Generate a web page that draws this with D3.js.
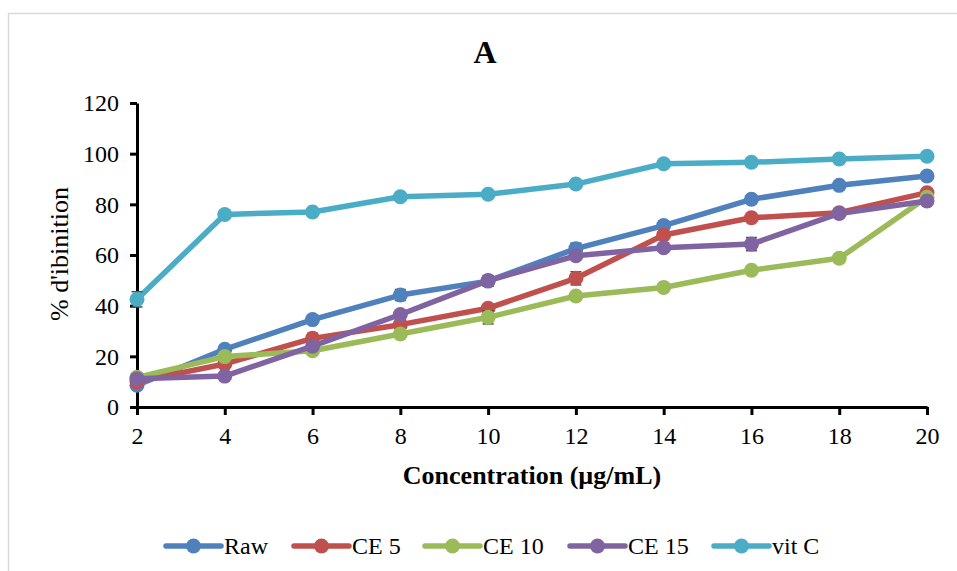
<!DOCTYPE html>
<html>
<head>
<meta charset="utf-8">
<script src="https://cdn.jsdelivr.net/npm/d3@7"></script>
<style>
  html, body { margin: 0; padding: 0; background: #fff; }
  svg { display: block; }
</style>
</head>
<body>
<svg id="chart" width="957" height="571"></svg>
<script>
const concentrations = [2, 4, 6, 8, 10, 12, 14, 16, 18, 20]
const yTicks = [0, 20, 40, 60, 80, 100, 120]

const rawValues = [8.6, 22.8, 34.5, 44.2, 49.7, 62.5, 71.6, 82.0, 87.5, 91.2]
const ce5Values = [10.0, 17.0, 27.1, 32.5, 39.0, 50.8, 67.9, 74.7, 76.7, 84.6]
const ce10Values = [11.7, 19.9, 22.2, 28.8, 35.4, 43.8, 47.2, 54.0, 58.7, 82.8]
const ce15Values = [11.2, 12.2, 24.0, 36.5, 49.9, 59.7, 62.9, 64.3, 76.4, 81.3]
const vitCValues = [42.5, 76.0, 77.0, 83.0, 84.0, 88.0, 96.0, 96.6, 97.9, 99.0]

const rawErrors = [0.8, 1.0, 1.2, 2.2, 2.0, 2.2, 1.0, 1.0, 1.0, 1.0]
const ce5Errors = [0.8, 1.0, 2.0, 1.0, 1.2, 2.6, 1.0, 1.0, 1.0, 1.2]
const ce10Errors = [0.8, 1.0, 1.0, 1.0, 2.6, 1.0, 1.0, 1.0, 1.6, 1.0]
const ce15Errors = [0.8, 1.0, 1.2, 1.2, 2.0, 1.0, 1.2, 2.6, 1.0, 1.0]
const vitCErrors = [3.0, 0.8, 0.8, 0.8, 0.8, 0.8, 0.8, 0.8, 0.8, 0.8]

const seriesNames = ['Raw', 'CE 5', 'CE 10', 'CE 15', 'vit C']
const seriesColors = ['#4F81BD', '#C0504D', '#9BBB59', '#8064A2', '#4BACC6']

const series = [
  { name: seriesNames[0], color: seriesColors[0], values: rawValues, errors: rawErrors },
  { name: seriesNames[1], color: seriesColors[1], values: ce5Values, errors: ce5Errors },
  { name: seriesNames[2], color: seriesColors[2], values: ce10Values, errors: ce10Errors },
  { name: seriesNames[3], color: seriesColors[3], values: ce15Values, errors: ce15Errors },
  { name: seriesNames[4], color: seriesColors[4], values: vitCValues, errors: vitCErrors }
]

const svg = d3.select('#chart')
const serif = "'Liberation Serif', 'Times New Roman', serif"

// chart frame (right and bottom edges fall outside the picture)
svg.append('rect')
  .attr('x', 8.5).attr('y', 13.5)
  .attr('width', 960).attr('height', 580)
  .attr('fill', 'none')
  .attr('stroke', '#d9d9d9')
  .attr('stroke-width', 1.5)

const x = d3.scaleLinear().domain([2, 20]).range([137, 927])
const y = d3.scaleLinear().domain([0, 120]).range([407, 103])

// title
svg.append('text')
  .attr('x', 485).attr('y', 63)
  .attr('text-anchor', 'middle')
  .attr('font-family', serif)
  .attr('font-weight', 'bold')
  .attr('font-size', 32)
  .text('A')

// y axis
const yAxis = svg.append('g')
  .attr('transform', `translate(${x(2)},0)`)
  .call(d3.axisLeft(y).tickValues(yTicks).tickSize(7).tickPadding(11).tickSizeOuter(0))
yAxis.select('.domain').attr('stroke', '#000').attr('stroke-width', 3)
yAxis.selectAll('.tick line').attr('stroke', '#000').attr('stroke-width', 3)
yAxis.selectAll('.tick text')
  .attr('font-family', serif)
  .attr('font-size', 24)
  .attr('fill', '#000')

// x axis
const xAxis = svg.append('g')
  .attr('transform', `translate(0,${y(0)})`)
  .call(d3.axisBottom(x).tickValues(concentrations).tickSize(8).tickPadding(12).tickSizeOuter(0))
xAxis.select('.domain').attr('stroke', '#000').attr('stroke-width', 3)
xAxis.selectAll('.tick line').attr('stroke', '#000').attr('stroke-width', 3)
xAxis.selectAll('.tick text')
  .attr('font-family', serif)
  .attr('font-size', 24)
  .attr('fill', '#000')

// axis titles
svg.append('text')
  .attr('x', 532).attr('y', 484)
  .attr('text-anchor', 'middle')
  .attr('font-family', serif)
  .attr('font-weight', 'bold')
  .attr('font-size', 26)
  .text('Concentration (µg/mL)')

svg.append('text')
  .attr('transform', 'translate(68,254) rotate(-90)')
  .attr('text-anchor', 'middle')
  .attr('font-family', serif)
  .attr('font-size', 26)
  .text("% d'ibinition")

// series
const line = d3.line()
  .x((d, i) => x(concentrations[i]))
  .y((d) => y(d))

const plot = svg.append('g')

series.forEach((s) => {
  const g = plot.append('g')
  g.append('path')
    .datum(s.values)
    .attr('d', line)
    .attr('fill', 'none')
    .attr('stroke', s.color)
    .attr('stroke-width', 5.5)
    .attr('stroke-linejoin', 'round')

  const err = g.selectAll('.err')
    .data(s.values.map((v, i) => ({ c: concentrations[i], v, e: s.errors[i] })))
    .join('g')
    .attr('stroke', '#4d4d4d')
    .attr('stroke-width', 1.5)
  err.append('line')
    .attr('x1', (d) => x(d.c)).attr('x2', (d) => x(d.c))
    .attr('y1', (d) => y(d.v - d.e)).attr('y2', (d) => y(d.v + d.e))
  err.append('line')
    .attr('x1', (d) => x(d.c) - 5.5).attr('x2', (d) => x(d.c) + 5.5)
    .attr('y1', (d) => y(d.v - d.e)).attr('y2', (d) => y(d.v - d.e))
  err.append('line')
    .attr('x1', (d) => x(d.c) - 5.5).attr('x2', (d) => x(d.c) + 5.5)
    .attr('y1', (d) => y(d.v + d.e)).attr('y2', (d) => y(d.v + d.e))

  g.selectAll('circle')
    .data(s.values)
    .join('circle')
    .attr('cx', (d, i) => x(concentrations[i]))
    .attr('cy', (d) => y(d))
    .attr('r', 7.5)
    .attr('fill', s.color)
})

// legend
const legendX = [166, 294, 425, 570, 714]
const legend = svg.append('g')
series.forEach((s, i) => {
  const g = legend.append('g').attr('transform', `translate(${legendX[i]},546)`)
  g.append('line')
    .attr('x1', 0).attr('x2', 55)
    .attr('stroke', s.color)
    .attr('stroke-width', 5.5)
    .attr('stroke-linecap', 'round')
  g.append('circle').attr('cx', 27.5).attr('r', 7.5).attr('fill', s.color)
  g.append('text')
    .attr('x', 58).attr('y', 8)
    .attr('font-family', serif)
    .attr('font-size', 24)
    .text(s.name)
})
</script>
</body>
</html>
